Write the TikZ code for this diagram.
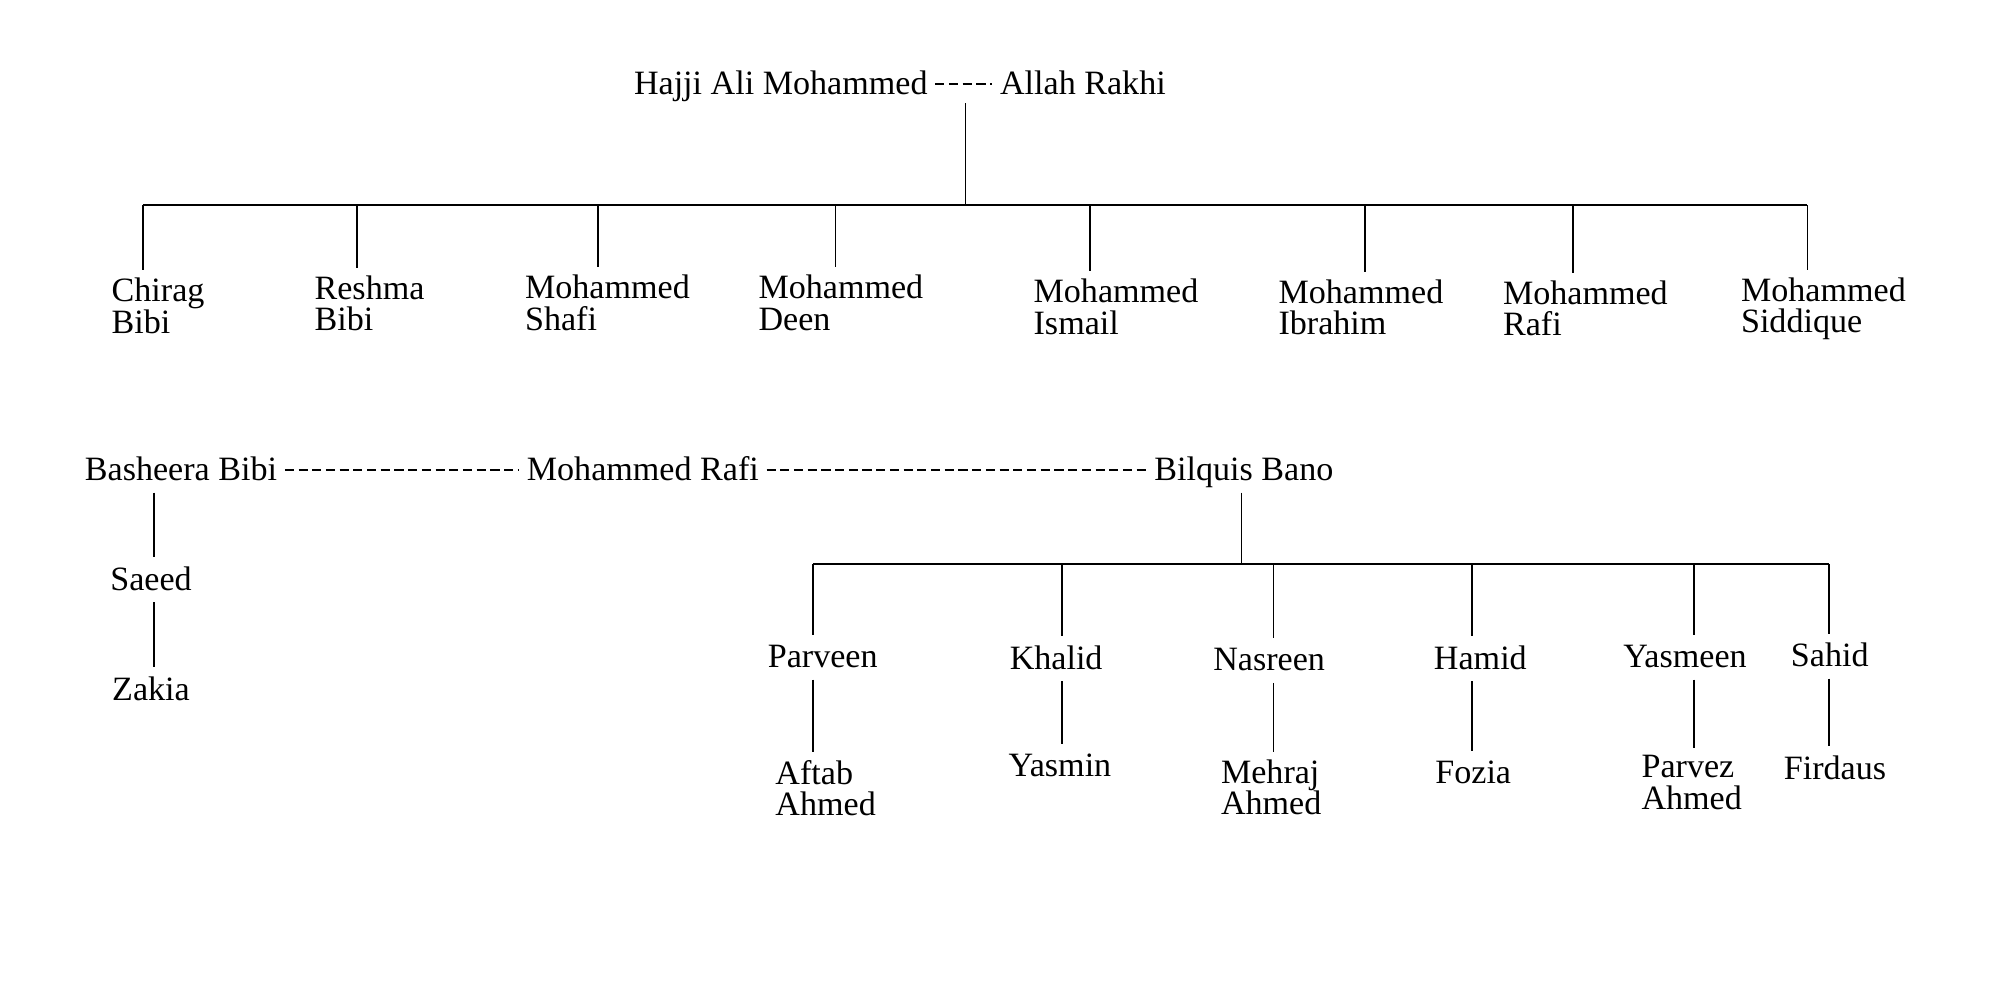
\documentclass[tikz,border=0pt]{standalone}
\usepackage{fontspec}
\setmainfont{Liberation Serif}
\usetikzlibrary{positioning}

\tikzset{
  person/.style={inner sep=0pt, outer sep=2.2pt, text height=0.72em, text depth=0.12em,
    font=\fontsize{9.7}{9}\selectfont},
  twoline/.style={inner sep=0pt, outer sep=2.2pt, align=left, anchor=base west,
    font=\fontsize{9.7}{9}\selectfont},
  kin/.style={line width=0.5pt},
  marriage/.style={line width=0.6pt, dash pattern=on 2.6pt off 1.3pt}
}

\begin{document}
\begin{tikzpicture}[x=0.012755cm,y=-0.012755cm]
 \useasboundingbox (0,0) rectangle (1568,784);
 \node[person,anchor=base west] (hajji) at (491,74) {Hajji Ali Mohammed};
 \node[person,anchor=base west] (rakhi) at (778,74) {Allah Rakhi};
 \draw[marriage] (hajji.east) -- (rakhi.west);
 \coordinate (pdrop) at (757,81);
 \coordinate (pjoin) at (757,161);
 \draw[kin] (pdrop) -- (pjoin);
 \coordinate (c1) at (112,161);
 \coordinate (c2) at (280,161);
 \coordinate (c3) at (469,161);
 \coordinate (c4) at (655,161);
 \coordinate (c5) at (854.5,161);
 \coordinate (c6) at (1070,161);
 \coordinate (c7) at (1233,161);
 \coordinate (c8) at (1417,161);
 \draw[kin] (c1) -- (c8);
 \node[twoline] (chirag) at (81.5,261.4) {Chirag\\Bibi};
 \node[twoline] (reshma) at (240.6,259.4) {Reshma\\Bibi};
 \node[twoline] (shafi) at (405.6,258.9) {Mohammed\\Shafi};
 \node[twoline] (deen) at (588.6,258.9) {Mohammed\\Deen};
 \node[twoline] (ismail) at (804.3,262.2) {Mohammed\\Ismail};
 \node[twoline] (ibrahim) at (996.3,262.6) {Mohammed\\Ibrahim};
 \node[twoline] (rafi) at (1172.3,263.3) {Mohammed\\Rafi};
 \node[twoline] (siddique) at (1358.9,260.9) {Mohammed\\Siddique};
 \draw[kin] (c1) -- (c1 |- chirag.north);
 \draw[kin] (c2) -- (c2 |- reshma.north);
 \draw[kin] (c3) -- (c3 |- shafi.north);
 \draw[kin] (c4) -- (c4 |- deen.north);
 \draw[kin] (c5) -- (c5 |- ismail.north);
 \draw[kin] (c6) -- (c6 |- ibrahim.north);
 \draw[kin] (c7) -- (c7 |- rafi.north);
 \draw[kin] (c8) -- (c8 |- siddique.north);

 \node[person,anchor=base west] (basheera) at (60.5,376.8) {Basheera Bibi};
 \node[person,anchor=base west] (mrafi) at (407,376.8) {Mohammed Rafi};
 \node[person,anchor=base west] (bilquis) at (899,376.8) {Bilquis Bano};
 \draw[marriage] (basheera.east) -- (mrafi.west);
 \draw[marriage] (mrafi.east) -- (bilquis.west);
 \coordinate (s0) at (120.5,400);
 \node[person,anchor=base] (saeed) at (118.4,462.6) {Saeed};
 \node[person,anchor=base] (zakia) at (118.4,549) {Zakia};
 \draw[kin] (s0 |- basheera.south) -- (s0 |- saeed.north);
 \draw[kin] (s0 |- saeed.south) -- (s0 |- zakia.north);
 \coordinate (k0) at (973.4,442);
 \coordinate (k1) at (637.5,442);
 \coordinate (k2) at (832.5,442);
 \coordinate (k3) at (998.5,442);
 \coordinate (k4) at (1154,442);
 \coordinate (k5) at (1328,442);
 \coordinate (k6) at (1434,442);
 \draw[kin] (k0 |- bilquis.south) -- (k0);
 \draw[kin] (k1) -- (k6);
 \node[person,anchor=base] (parveen) at (645,523.4) {Parveen};
 \node[person,anchor=base] (khalid) at (828,524.6) {Khalid};
 \node[person,anchor=base] (nasreen) at (995,526) {Nasreen};
 \node[person,anchor=base] (hamid) at (1160.6,524.8) {Hamid};
 \node[person,anchor=base] (yasmeen) at (1321,523.4) {Yasmeen};
 \node[person,anchor=base] (sahid) at (1434.5,522.7) {Sahid};
 \draw[kin] (k1) -- (k1 |- parveen.north);
 \draw[kin] (k2) -- (k2 |- khalid.north);
 \draw[kin] (k3) -- (k3 |- nasreen.north);
 \draw[kin] (k4) -- (k4 |- hamid.north);
 \draw[kin] (k5) -- (k5 |- yasmeen.north);
 \draw[kin] (k6) -- (k6 |- sahid.north);
 \node[twoline] (aftab) at (601.9,639.6) {Aftab\\Ahmed};
 \node[person,anchor=base] (yasmin) at (831,609) {Yasmin};
 \node[twoline] (mehraj) at (951.2,638.9) {Mehraj\\Ahmed};
 \node[person,anchor=base] (fozia) at (1155,614.6) {Fozia};
 \node[twoline] (parvez) at (1280.9,634.6) {Parvez\\Ahmed};
 \node[person,anchor=base] (firdaus) at (1438.6,610.8) {Firdaus};
 \draw[kin] (k1 |- parveen.south) -- (k1 |- aftab.north);
 \draw[kin] (k2 |- khalid.south) -- (k2 |- yasmin.north);
 \draw[kin] (k3 |- nasreen.south) -- (k3 |- mehraj.north);
 \draw[kin] (k4 |- hamid.south) -- (k4 |- fozia.north);
 \draw[kin] (k5 |- yasmeen.south) -- (k5 |- parvez.north);
 \draw[kin] (k6 |- sahid.south) -- (k6 |- firdaus.north);
\end{tikzpicture}
\end{document}
